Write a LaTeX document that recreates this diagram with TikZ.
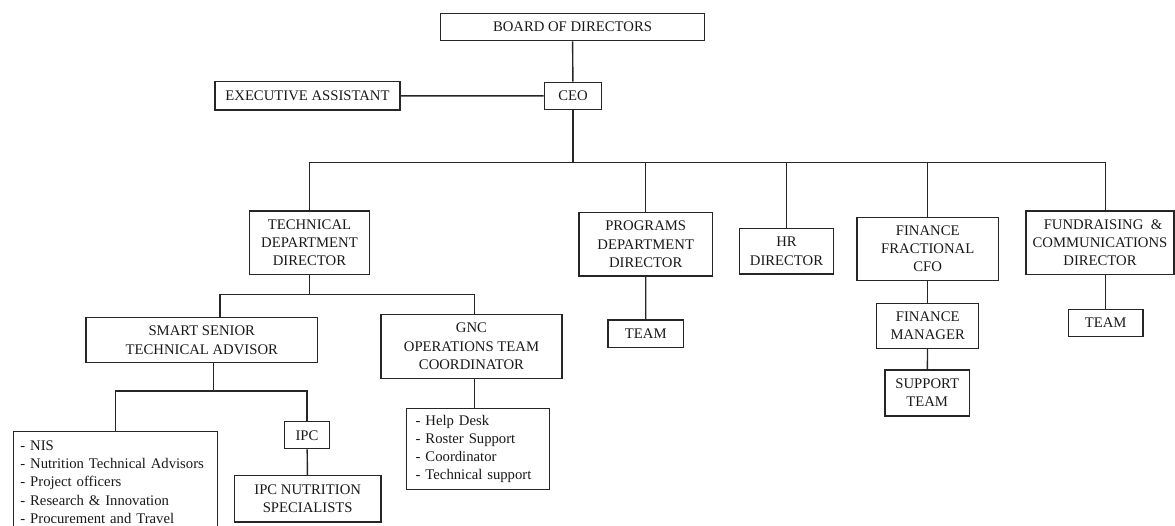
\documentclass[tikz,border=0pt]{standalone}
\usepackage{fontspec}
\setmainfont{Liberation Serif}
\usetikzlibrary{positioning,calc}

\begin{document}
\begin{tikzpicture}[
    x=1pt, y=-1pt,
    font=\fontsize{14.7}{18.2}\selectfont,
    role/.style={draw=black!85, line width=1.4pt, align=center, inner xsep=2pt, inner ysep=0pt, text=black!90},
    roster/.style={role, align=left},
    link/.style={draw=black!85, line width=1.4pt},
]
\useasboundingbox (0,0) rectangle (1175,525);

\node[role, minimum width=263.6, minimum height=27.4] (board) at (572.5,27) {BOARD OF DIRECTORS};
\node[role, minimum width=57.4, minimum height=27] (ceo) at (573,95.8) {CEO};
\node[role, minimum width=185, minimum height=28.3] (exec) at (307.5,95.9) {EXECUTIVE ASSISTANT};

\node[role, minimum width=120.4, minimum height=63.7] (tech) at (309.5,242.9) {TECHNICAL\\DEPARTMENT\\DIRECTOR};
\node[role, minimum width=133.3, minimum height=63.3] (prog) at (645.7,244.3) {PROGRAMS\\DEPARTMENT\\DIRECTOR};
\node[role, minimum width=94.4, minimum height=45.7] (hr) at (786.5,251.2) {HR\\DIRECTOR};
\node[role, minimum width=141.3, minimum height=63] (cfo) at (927.7,248.8) {FINANCE\\FRACTIONAL\\CFO};
\node[role, minimum width=148, minimum height=63.7] (fund) at (1100,242.9) {\hspace*{6pt}FUNDRAISING ~\&\\COMMUNICATIONS\\DIRECTOR};

\node[role, minimum width=75.7, minimum height=27.3] (progteam) at (645.8,333.7) {TEAM};
\node[role, minimum width=102, minimum height=45] (finmgr) at (927.7,325.8) {FINANCE\\MANAGER};
\node[role, minimum width=84.3, minimum height=46] (support) at (927.2,393) {SUPPORT\\TEAM};
\node[role, minimum width=74.7, minimum height=27.3] (fundteam) at (1105.7,323) {TEAM};

\node[role, minimum width=231.7, minimum height=45] (smart) at (201.8,340.2) {SMART SENIOR\\TECHNICAL ADVISOR};
\node[role, minimum width=181, minimum height=64] (gnc) at (471.5,346.3) {GNC\\OPERATIONS TEAM\\COORDINATOR};
\node[roster, text width=124.6, inner xsep=9, minimum height=81] (gnclist) at (478,448.8) {- Help Desk\\- Roster Support\\- Coordinator\\- Technical support};

\node[roster, anchor=north west, text width=190.3, inner xsep=7, inner ysep=9] (nis) at (12.7,431) {- NIS\\- Nutrition Technical Advisors\\- Project officers\\- Research \& Innovation\\- Procurement and Travel};
\node[role, minimum width=45.4, minimum height=27] (ipc) at (307,435.2) {IPC};
\node[role, minimum width=146.7, minimum height=46.3] (ipcnut) at (307.7,498.9) {IPC NUTRITION\\SPECIALISTS};

\coordinate (bus) at (310,162.7);
\coordinate (tl) at (220,294.3);
\coordinate (tr) at (474.7,294.3);
\coordinate (sm) at (213.3,391);
\coordinate (sl) at (115.3,391);

\draw[link] (board) -- (ceo);
\draw[link] (exec) -- (ceo);
\draw[link] (ceo) -- (ceo |- bus);
\draw[link] (tech) -- (tech |- bus) -- (bus -| fundteam) -- (fund.north -| fundteam);
\foreach \n in {prog,hr,cfo}
    \draw[link] (\n) -- (\n |- bus);

\draw[link] (tech) -- (tech |- tl);
\draw[link] (smart.north -| tl) -- (tl) -- (tr) -- (gnc.north -| tr);
\draw[link] (gnc.south -| tr) -- (gnclist.north -| tr);

\draw[link] (smart.south -| sm) -- (sm);
\draw[link] (nis.north -| sl) -- (sl) -- (sl -| ipc) -- (ipc);
\draw[link] (ipc) -- (ipcnut);

\draw[link] (prog) -- (progteam);
\draw[link] (cfo) -- (finmgr);
\draw[link] (finmgr) -- (support);
\draw[link] (fundteam) -- (fundteam |- fund.south);

\end{tikzpicture}
\end{document}
